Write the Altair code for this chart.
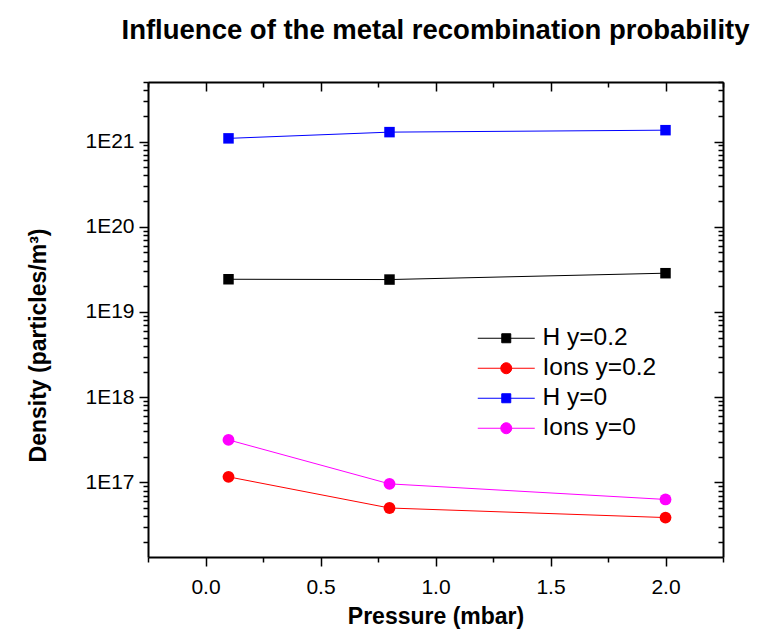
import altair as alt
import pandas as pd

# Pressure values (mbar) and densities (particles/m^3) for each series
pressure = [0.1, 0.8, 2.0]
h_y02 = [2.42e19, 2.40e19, 2.85e19]
ions_y02 = [1.16e17, 5.0e16, 3.86e16]
h_y0 = [1.09e21, 1.29e21, 1.36e21]
ions_y0 = [3.15e17, 9.6e16, 6.3e16]

series_names = ["H y=0.2", "Ions y=0.2", "H y=0", "Ions y=0"]
series_values = [h_y02, ions_y02, h_y0, ions_y0]
series_colors = ["#000000", "#ff0000", "#0000ff", "#ff00ff"]
square_series = ["H y=0.2", "H y=0"]
circle_series = ["Ions y=0.2", "Ions y=0"]

rows = []
for name, vals in zip(series_names, series_values):
    for p, v in zip(pressure, vals):
        rows.append({"series": name, "pressure": p, "density": v})
df = pd.DataFrame(rows)

W, H = 575, 475
FONT = "Liberation Sans"

x_ticks = [-0.25 + 0.25 * i for i in range(11)]
y_ticks = [m * 10.0 ** k for k in range(16, 22) for m in range(1, 10)
           if 1.33e16 <= m * 10.0 ** k <= 5e21]

x_major = "abs(datum.value*2 - round(datum.value*2)) < 1e-6"
y_major = "abs(log(datum.value)/LN10 - round(log(datum.value)/LN10)) < 1e-6"

x_scale = alt.Scale(domain=[-0.25, 2.25], nice=False, zero=False)
y_scale = alt.Scale(type="log", domain=[1.33e16, 5e21], nice=False)
color_scale = alt.Scale(domain=series_names, range=series_colors)

common_axis = dict(domainColor="black", domainWidth=2, tickColor="black",
                   tickWidth=1.5, grid=False, labelOverlap=False,
                   labelBound=False, labelFlush=False)

x_axis_main = alt.Axis(
    values=x_ticks, orient="bottom", title="Pressure (mbar)",
    tickSize={"condition": {"test": x_major, "value": 9}, "value": 5},
    labelExpr=f"{x_major} ? format(datum.value, '.1f') : ''",
    labelFont=FONT, labelFontSize=21, labelColor="black", labelPadding=10,
    titleFont=FONT, titleFontSize=23, titleFontWeight="bold",
    titleColor="black", titlePadding=8, **common_axis)
y_axis_main = alt.Axis(
    values=y_ticks, orient="left", title="Density (particles/m³)",
    tickSize={"condition": {"test": y_major, "value": 9}, "value": 5},
    labelExpr=f"{y_major} ? '1E' + round(log(datum.value)/LN10) : ''",
    labelFont=FONT, labelFontSize=21, labelColor="black", labelPadding=5,
    titleFont=FONT, titleFontSize=23, titleFontWeight="bold",
    titleColor="black", titleX=-110, titleY=263, titleAngle=-90,
    titleAlign="center", titleBaseline="middle", **common_axis)

# mirrored axes on the top and right edges, ticks pointing inward
x_axis_top = alt.Axis(
    values=x_ticks, orient="bottom", offset=-H, labels=False, title=None,
    tickSize={"condition": {"test": x_major, "value": 9}, "value": 5},
    **common_axis)
y_axis_right = alt.Axis(
    values=y_ticks, orient="left", offset=-W, labels=False, title=None,
    tickSize={"condition": {"test": y_major, "value": 9}, "value": 5},
    **common_axis)

# legend glyphs: a short line with the marker in its middle
# (path units are 5 px at the legend symbol size of 100)
sq_path = "M-5.7,0H5.7M-0.9,-0.9H0.9V0.9H-0.9Z"
ci_path = "M-5.7,0H5.7M1.1,0A1.1,1.1 0 1,1 -1.1,0A1.1,1.1 0 1,1 1.1,0Z"
glyphs = [sq_path, ci_path, sq_path, ci_path]

legend = alt.Legend(
    title=None, orient="none", legendX=346, legendY=244,
    labelFont=FONT, labelFontSize=24.5, labelColor="black",
    symbolSize=100, symbolStrokeWidth=1, symbolOpacity=1,
    labelOffset=24, rowPadding=5, padding=0,
)

base = alt.Chart(df)

lines = base.mark_line(strokeWidth=1).encode(
    x=alt.X("pressure:Q", scale=x_scale, axis=x_axis_main),
    y=alt.Y("density:Q", scale=y_scale, axis=y_axis_main),
    color=alt.Color("series:N", scale=color_scale, legend=legend),
    detail="series:N",
)

squares = base.mark_point(shape="square", filled=True, size=110, opacity=1).encode(
    x=alt.X("pressure:Q", scale=x_scale, axis=None),
    y=alt.Y("density:Q", scale=y_scale, axis=None),
    color=alt.Color("series:N", scale=color_scale, legend=None),
).transform_filter(alt.FieldOneOfPredicate(field="series", oneOf=square_series))

circles = base.mark_point(shape="circle", filled=True, size=140, opacity=1).encode(
    x=alt.X("pressure:Q", scale=x_scale, axis=None),
    y=alt.Y("density:Q", scale=y_scale, axis=None),
    color=alt.Color("series:N", scale=color_scale, legend=None),
).transform_filter(alt.FieldOneOfPredicate(field="series", oneOf=circle_series))

# this layer draws no marks of its own: it carries the legend glyphs and
# the mirrored top/right axes
legend_layer = base.mark_point(filled=True).encode(
    x=alt.X("pressure:Q", scale=x_scale, axis=x_axis_top),
    y=alt.Y("density:Q", scale=y_scale, axis=y_axis_right),
    fill=alt.Fill("series:N", scale=alt.Scale(domain=series_names, range=series_colors),
                  legend=legend),
    stroke=alt.Stroke("series:N", scale=alt.Scale(domain=series_names, range=series_colors),
                      legend=legend),
    shape=alt.Shape("series:N", scale=alt.Scale(domain=series_names, range=glyphs),
                    legend=legend),
).transform_filter("datum.density < 0")

chart = alt.layer(lines, squares, circles, legend_layer).resolve_axis(
    x="independent", y="independent"
).properties(
    width=W, height=H,
    title=alt.TitleParams(
        "Influence of the metal recombination probability",
        font=FONT, fontSize=27.5, fontWeight="bold", color="black",
        anchor="middle", offset=27,
    ),
    autosize=alt.AutoSizeParams(type="none"),
    padding={"left": 148, "top": 82, "right": 36, "bottom": 77},
).configure_view(stroke=None).configure(background="white")

chart.save("out.html", embed_options={"renderer": "svg", "actions": False})
